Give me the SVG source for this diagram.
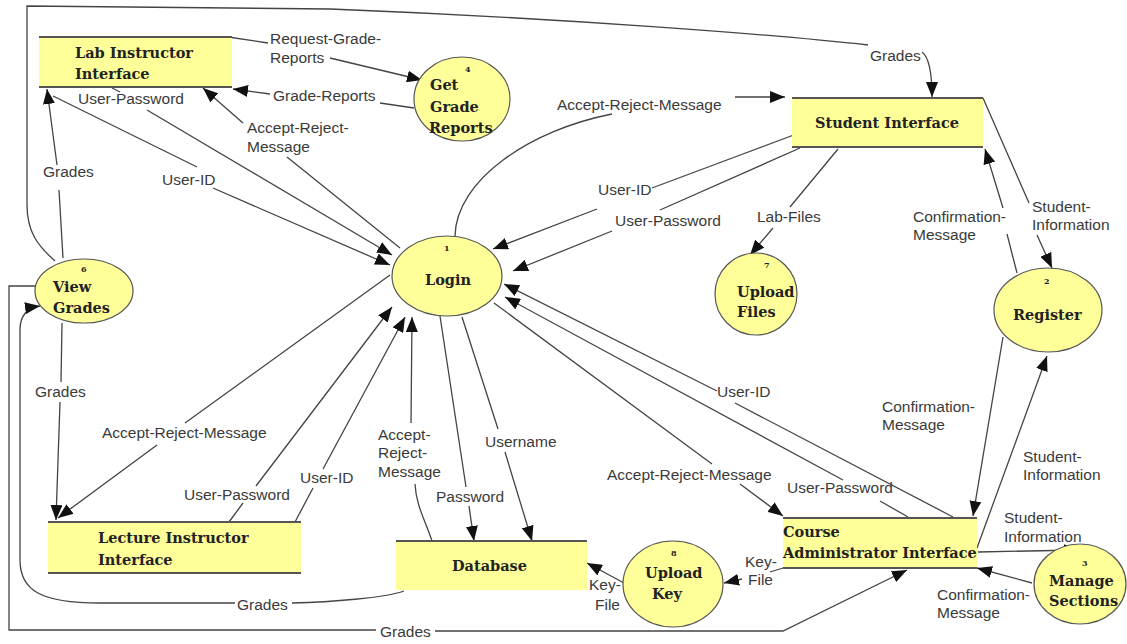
<svg xmlns="http://www.w3.org/2000/svg" width="1127" height="644" viewBox="0 0 1127 644">
<defs>
<marker id="ah" viewBox="0 0 15 12" refX="15" refY="6" markerWidth="15" markerHeight="12" orient="auto" markerUnits="userSpaceOnUse"><path d="M0,0 L15,6 L0,12 z" fill="#111"/></marker>
</defs>
<style>
.bg{fill:#fff}
.st{fill:#ffff99}
.stl{stroke:#555;stroke-width:2;fill:none}
.pr{fill:#ffff99;stroke:#555;stroke-width:1.2}
.nt{font-family:"DejaVu Serif",serif;font-weight:bold;font-size:14.5px;fill:#222}
.num{font-family:"DejaVu Serif",serif;font-weight:bold;font-size:8px;fill:#222}
.c{fill:none;stroke:#444;stroke-width:1.3;marker-end:url(#ah)}
.cn{fill:none;stroke:#444;stroke-width:1.3}
.lb{font-family:"Liberation Sans",Arial,sans-serif;font-size:15.5px;fill:#3a3a3a}
</style>
<rect class="bg" width="1127" height="644"/>

<g id="connectors">
<!-- View Grades -> Student Interface (outer top) -->
<path class="c" d="M55,261 C38,246 27,232 27,205 L27,6 L330,9 C560,18 780,35 868,45 M922,52 C930,58 932,75 932,97"/>
<!-- View Grades -> Lab -->
<path class="c" d="M63,258 L59,190 M57,165 L47,89"/>
<!-- View Grades -> Lecture -->
<path class="c" d="M62,323 L61,382 M60,402 L56,520"/>
<!-- Database -> View Grades -->
<path class="c" d="M404,591 C385,598 330,602 292,603 M235,603 L100,603 C40,603 20,590 20,560 L20,330 C20,316 26,308 40,306"/>
<!-- View Grades -> Course Admin (outer bottom) -->
<path class="c" d="M38,286 L9,286 L9,630 L376,630 M435,631 L783,631 L907,570"/>
<!-- Lab -> Get Grade Reports -->
<path class="c" d="M228,37 L268,43 M330,58 L422,80"/>
<!-- Get -> Lab -->
<path class="c" d="M414,108 L380,103 M270,94 L233,89"/>
<!-- Lab -> Login User-ID -->
<path class="c" d="M53,96 L197,167 M213,188 L390,265"/>
<!-- Lab -> Login User-Password -->
<path class="c" d="M112,88 L120,92 M147,110 L392,255"/>
<!-- Login -> Lab Accept-Reject -->
<path class="c" d="M400,248 L287,157 M243,123 L203,88"/>
<!-- Login -> Student Accept-Reject -->
<path class="c" d="M455,236 C456,180 530,130 612,114 M735,97 L785,97"/>
<!-- Student -> Login User-ID -->
<path class="c" d="M815,127 L652,188 M597,209 L493,249"/>
<!-- Student -> Login User-Password -->
<path class="c" d="M800,148 L660,210 M612,231 L513,271"/>
<!-- Student -> Upload Files -->
<path class="c" d="M838,149 L790,207 M773,228 L750,255"/>
<!-- Student -> Register -->
<path class="c" d="M983,98 L1029,203 M1037,235 L1052,268"/>
<!-- Register -> Student -->
<path class="c" d="M1017,273 L1007,234 M1003,208 L985,149"/>
<!-- Register -> Course Admin -->
<path class="c" d="M1003,337 L973,516"/>
<!-- Course Admin -> Register -->
<path class="c" d="M977,548 L1047,356"/>
<!-- Course Admin -> Manage Sections -->
<path class="c" d="M978,552 L1079,550"/>
<!-- Manage Sections -> Course Admin -->
<path class="c" d="M1032,583 L977,568"/>
<!-- Course Admin -> Upload Key -->
<path class="c" d="M783,568 L770,572 M742,579 L724,583"/>
<!-- Upload Key -> Database -->
<path class="c" d="M624,583 L587,563"/>
<!-- Login -> Course Admin Accept-Reject -->
<path class="c" d="M494,303 L712,464 M740,484 L783,516"/>
<!-- Course Admin -> Login User-ID -->
<path class="c" d="M953,517 L735,403 M717,391 L504,284"/>
<!-- Course Admin -> Login User-Password -->
<path class="c" d="M908,517 L880,501 M843,480 L505,297"/>
<!-- Login -> Database Password -->
<path class="c" d="M440,316 L466,487 M469,506 L474,541"/>
<!-- Login -> Database Username -->
<path class="c" d="M462,317 L498,429 M505,452 L532,541"/>
<!-- Database -> Login Accept-Reject -->
<path class="c" d="M432,541 C425,520 416,505 415,484 M411,423 L412,317"/>
<!-- Login -> Lecture Accept-Reject -->
<path class="c" d="M390,275 L185,423 M157,445 L58,518"/>
<!-- Lecture -> Login User-Password -->
<path class="c" d="M229,522 L243,503 M256,486 L392,307"/>
<!-- Lecture -> Login User-ID -->
<path class="c" d="M295,522 L313,488 M323,469 L405,317"/>

<!-- labels -->
<text class="lb" x="270" y="44">Request-Grade-</text>
<text class="lb" x="270" y="63">Reports</text>
<text class="lb" x="273" y="101">Grade-Reports</text>
<text class="lb" x="78" y="104">User-Password</text>
<text class="lb" x="247" y="133">Accept-Reject-</text>
<text class="lb" x="247" y="152">Message</text>
<text class="lb" x="43" y="177">Grades</text>
<text class="lb" x="162" y="185">User-ID</text>
<text class="lb" x="870" y="61">Grades</text>
<text class="lb" x="557" y="110">Accept-Reject-Message</text>
<text class="lb" x="598" y="195">User-ID</text>
<text class="lb" x="615" y="226">User-Password</text>
<text class="lb" x="757" y="222">Lab-Files</text>
<text class="lb" x="913" y="222">Confirmation-</text>
<text class="lb" x="913" y="240">Message</text>
<text class="lb" x="1032" y="212">Student-</text>
<text class="lb" x="1032" y="230">Information</text>
<text class="lb" x="35" y="397">Grades</text>
<text class="lb" x="102" y="438">Accept-Reject-Message</text>
<text class="lb" x="184" y="500">User-Password</text>
<text class="lb" x="300" y="483">User-ID</text>
<text class="lb" x="378" y="440">Accept-</text>
<text class="lb" x="378" y="458">Reject-</text>
<text class="lb" x="378" y="477">Message</text>
<text class="lb" x="436" y="502">Password</text>
<text class="lb" x="485" y="447">Username</text>
<text class="lb" x="717" y="397">User-ID</text>
<text class="lb" x="882" y="412">Confirmation-</text>
<text class="lb" x="882" y="430">Message</text>
<text class="lb" x="1023" y="462">Student-</text>
<text class="lb" x="1023" y="480">Information</text>
<text class="lb" x="607" y="480">Accept-Reject-Message</text>
<text class="lb" x="787" y="493">User-Password</text>
<text class="lb" x="1004" y="523">Student-</text>
<text class="lb" x="1004" y="542">Information</text>
<text class="lb" x="745" y="567">Key-</text>
<text class="lb" x="748" y="585">File</text>
<text class="lb" x="589" y="590">Key-</text>
<text class="lb" x="595" y="610">File</text>
<text class="lb" x="937" y="600">Confirmation-</text>
<text class="lb" x="937" y="618">Message</text>
<text class="lb" x="237" y="610">Grades</text>
<text class="lb" x="380" y="637">Grades</text>
</g>

<g id="lab-instructor">
<rect class="st" x="39" y="37" width="193" height="50"/>
<path class="stl" d="M39,37 H232 M39,87 H232"/>
<text class="nt" x="75" y="58">Lab Instructor</text>
<text class="nt" x="75" y="79">Interface</text>
</g>

<g id="get-grade-reports">
<ellipse class="pr" cx="462" cy="99" rx="48" ry="42"/>
<text class="num" x="465" y="72">4</text>
<text class="nt" x="430" y="90">Get</text>
<text class="nt" x="430" y="112">Grade</text>
<text class="nt" x="429" y="133">Reports</text>
</g>

<g id="student-interface">
<rect class="st" x="792" y="98" width="191" height="49"/>
<path class="stl" d="M792,98 H983 M792,147 H983"/>
<text class="nt" x="815" y="128">Student Interface</text>
</g>

<g id="login">
<ellipse class="pr" cx="447" cy="276" rx="55" ry="40"/>
<text class="num" x="444" y="251">1</text>
<text class="nt" x="425" y="285">Login</text>
</g>

<g id="upload-files">
<ellipse class="pr" cx="756" cy="294" rx="41" ry="41"/>
<text class="num" x="764" y="268">7</text>
<text class="nt" x="737" y="297">Upload</text>
<text class="nt" x="737" y="317">Files</text>
</g>

<g id="register">
<ellipse class="pr" cx="1048" cy="310" rx="54" ry="42"/>
<text class="num" x="1044" y="284">2</text>
<text class="nt" x="1013" y="320">Register</text>
</g>

<g id="view-grades">
<ellipse class="pr" cx="84" cy="291" rx="49" ry="32"/>
<text class="num" x="81" y="272">6</text>
<text class="nt" x="53" y="292">View</text>
<text class="nt" x="53" y="313">Grades</text>
</g>

<g id="lecture-instructor">
<rect class="st" x="48" y="522" width="253" height="51"/>
<path class="stl" d="M48,522 H301 M48,573 H301"/>
<text class="nt" x="98" y="543">Lecture Instructor</text>
<text class="nt" x="98" y="565">Interface</text>
</g>

<g id="database">
<rect class="st" x="396" y="541" width="191" height="49"/>
<path class="stl" d="M396,541 H587"/>
<text class="nt" x="452" y="571">Database</text>
</g>

<g id="upload-key">
<ellipse class="pr" cx="673" cy="584" rx="50" ry="43"/>
<text class="num" x="671" y="556">8</text>
<text class="nt" x="645" y="578">Upload</text>
<text class="nt" x="652" y="599">Key</text>
</g>

<g id="course-admin">
<rect class="st" x="783" y="518" width="194" height="50"/>
<path class="stl" d="M783,518 H977 M783,568 H977"/>
<text class="nt" x="783" y="537">Course</text>
<text class="nt" x="783" y="558">Administrator Interface</text>
</g>

<g id="manage-sections">
<ellipse class="pr" cx="1080" cy="584" rx="46" ry="40"/>
<text class="num" x="1082" y="566">3</text>
<text class="nt" x="1049" y="586">Manage</text>
<text class="nt" x="1049" y="606">Sections</text>
</g>
</svg>
